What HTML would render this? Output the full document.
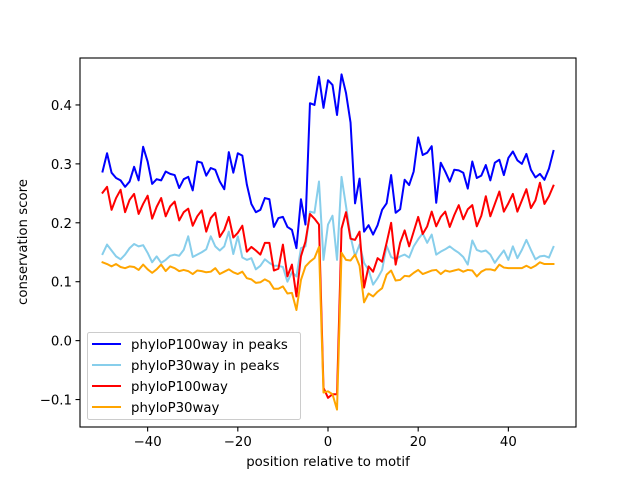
<!DOCTYPE html>
<html><head><meta charset="utf-8"><style>
html,body{margin:0;padding:0;background:#fff;}
svg text{font-family:"DejaVu Sans","Liberation Sans",sans-serif;}
</style></head><body>
<svg id="chart" width="640" height="480" viewBox="0 0 640 480" xmlns="http://www.w3.org/2000/svg">
<rect x="0" y="0" width="640" height="480" fill="#fff"/>
<g id="series"></g>
<g id="axes"></g>
</svg>
<script>
const positions = [];
for (let p = -50; p <= 50; p++) positions.push(p);
const phyloP100Peaks = [0.287,0.318,0.285,0.276,0.272,0.261,0.27,0.295,0.272,0.329,0.304,0.266,0.274,0.272,0.287,0.283,0.281,0.259,0.274,0.278,0.255,0.304,0.302,
0.28,0.293,0.29,0.27,0.257,0.32,0.285,0.318,0.314,0.265,0.232,0.218,0.222,0.242,0.24,0.193,0.208,0.21,0.193,0.188,0.157,0.24,0.197,
0.403,0.4,0.448,0.395,0.442,0.434,0.383,0.452,0.42,0.37,0.233,0.275,0.185,0.196,0.18,0.196,0.222,0.233,0.281,0.217,0.223,0.273,0.264,0.287,0.345,0.315,0.319,0.33,0.234,0.302,0.287,0.27,0.29,0.289,0.285,0.258,0.304,0.276,0.28,0.298,0.272,0.302,0.307,0.281,0.31,0.321,0.306,0.3,0.317,0.29,0.277,0.283,0.273,0.292,0.322];
const phyloP30Peaks = [0.147,0.163,0.153,0.143,0.138,0.146,0.157,0.164,0.16,0.162,0.149,0.133,0.143,0.132,0.137,0.144,0.146,0.144,0.154,0.177,0.142,0.146,0.15,
0.155,0.177,0.16,0.153,0.16,0.185,0.147,0.177,0.141,0.137,0.14,0.121,0.127,0.138,0.132,0.127,0.127,0.125,0.1,0.116,0.109,0.157,0.16,
0.219,0.217,0.27,0.137,0.197,0.212,0.137,0.278,0.228,0.177,0.143,0.163,0.132,0.12,0.095,0.106,0.12,0.161,0.142,0.138,0.143,0.146,0.141,0.16,0.172,0.182,0.166,0.18,0.146,0.151,0.155,0.16,0.154,0.149,0.142,0.129,0.17,0.154,0.151,0.153,0.146,0.132,0.143,0.153,0.137,0.16,0.14,0.154,0.171,0.154,0.138,0.143,0.144,0.141,0.159];
const phyloP100 = [0.251,0.261,0.222,0.242,0.256,0.218,0.239,0.249,0.215,0.232,0.246,0.207,0.227,0.242,0.211,0.228,0.236,0.204,0.218,0.224,0.195,0.211,0.221,
0.185,0.208,0.217,0.176,0.188,0.21,0.175,0.183,0.195,0.151,0.159,0.153,0.146,0.166,0.166,0.119,0.122,0.163,0.109,0.129,0.075,0.143,0.168,
0.215,0.207,0.197,-0.08,-0.097,-0.091,-0.091,0.19,0.218,0.173,0.171,0.185,0.09,0.126,0.117,0.14,0.134,0.166,0.2,0.129,0.166,0.187,0.16,0.185,0.21,0.181,0.194,0.219,0.194,0.21,0.219,0.193,0.213,0.23,0.206,0.223,0.23,0.194,0.212,0.245,0.211,0.232,0.253,0.219,0.233,0.249,0.219,0.238,0.257,0.225,0.238,0.268,0.232,0.245,0.263];
const phyloP30 = [0.133,0.13,0.126,0.13,0.125,0.123,0.126,0.125,0.12,0.129,0.121,0.115,0.121,0.129,0.118,0.126,0.123,0.118,0.12,0.118,0.113,0.119,0.118,
0.116,0.117,0.123,0.113,0.117,0.121,0.116,0.113,0.117,0.106,0.104,0.098,0.099,0.104,0.1,0.088,0.088,0.092,0.08,0.081,0.052,0.103,0.126,
0.134,0.14,0.159,-0.088,-0.086,-0.091,-0.117,0.149,0.137,0.136,0.146,0.127,0.065,0.08,0.075,0.083,0.089,0.112,0.119,0.102,0.103,0.11,0.109,0.115,0.12,0.113,0.116,0.119,0.12,0.113,0.119,0.117,0.119,0.121,0.117,0.12,0.119,0.109,0.117,0.121,0.121,0.119,0.129,0.124,0.123,0.123,0.123,0.123,0.127,0.123,0.127,0.133,0.13,0.13,0.13];
const xTicks = [-40,-20,0,20,40];
const yTicks = [-0.1,0.0,0.1,0.2,0.3,0.4];
const yTickLabels = ["\u22120.1","0.0","0.1","0.2","0.3","0.4"];
const xTickLabels = ["\u221240","\u221220","0","20","40"];

const L=80,R=576,T=58,B=427;
const xMin=-55,xMax=55,yMin=-0.1466,yMax=0.4797;
function xs(v){return L+(v-xMin)/(xMax-xMin)*(R-L);}
function ys(v){return B-(v-yMin)/(yMax-yMin)*(B-T);}
const NS="http://www.w3.org/2000/svg";
function mk(tag,attrs,parent){const e=document.createElementNS(NS,tag);for(const k in attrs)e.setAttribute(k,attrs[k]);parent.appendChild(e);return e;}
const sg=document.getElementById('series');
const seriesList=[[phyloP100Peaks,'#0000ff','line-phylop100way-in-peaks'],[phyloP30Peaks,'#87ceeb','line-phylop30way-in-peaks'],[phyloP100,'#ff0000','line-phylop100way'],[phyloP30,'#ffa500','line-phylop30way']];
seriesList.forEach(s=>{
  const d=s[0].map((v,i)=>(i?'L':'M')+xs(positions[i]).toFixed(2)+','+ys(v).toFixed(2)).join('');
  const p=mk('path',{d:d,fill:'none',stroke:s[1],'stroke-width':2,'stroke-linejoin':'round','stroke-linecap':'square'},sg);
  
  
});
const ag=document.getElementById('axes');
const frame=mk('rect',{x:L,y:T,width:R-L,height:B-T,fill:'none',stroke:'#000','stroke-width':1.1},ag);


xTicks.forEach((t,i)=>{
  const x=xs(t);
  const tk=mk('line',{x1:x,x2:x,y1:B,y2:B+4.5,stroke:'#000','stroke-width':1.1},ag);
  
  
  const tx=mk('text',{x:x,y:B+19,'text-anchor':'middle','font-size':'13.3px',fill:'#000'},ag);
  tx.textContent=xTickLabels[i];
  
  
});
yTicks.forEach((t,i)=>{
  const y=ys(t);
  const tk=mk('line',{x1:L-4.5,x2:L,y1:y,y2:y,stroke:'#000','stroke-width':1.1},ag);
  
  
  const tx=mk('text',{x:L-8,y:y+5,'text-anchor':'end','font-size':'13.3px',fill:'#000'},ag);
  tx.textContent=yTickLabels[i];
  
  
});
</script>
<svg style="position:absolute;left:0;top:0" width="640" height="480">
<text x="328" y="466" text-anchor="middle" font-size="13.3px" fill="#000" font-family="DejaVu Sans, Liberation Sans, sans-serif">position relative to motif</text>
<text transform="translate(27,242) rotate(-90)" text-anchor="middle" font-size="13.3px" fill="#000" font-family="DejaVu Sans, Liberation Sans, sans-serif">conservation score</text>
<g font-family="DejaVu Sans, Liberation Sans, sans-serif" font-size="13.3px">
<rect x="87.5" y="332.5" width="213" height="87" rx="2" fill="#fff" fill-opacity="0.8" stroke="#ccc" stroke-width="1"/>
<g><line x1="92" x2="121" y1="344" y2="344" stroke="#0000ff" stroke-width="2"/><text x="131" y="349">phyloP100way in peaks</text></g>
<g><line x1="92" x2="121" y1="365" y2="365" stroke="#87ceeb" stroke-width="2"/><text x="131" y="370">phyloP30way in peaks</text></g>
<g><line x1="92" x2="121" y1="386" y2="386" stroke="#ff0000" stroke-width="2"/><text x="131" y="391">phyloP100way</text></g>
<g><line x1="92" x2="121" y1="407" y2="407" stroke="#ffa500" stroke-width="2"/><text x="131" y="412">phyloP30way</text></g>
</g>
</svg>
</body></html>
